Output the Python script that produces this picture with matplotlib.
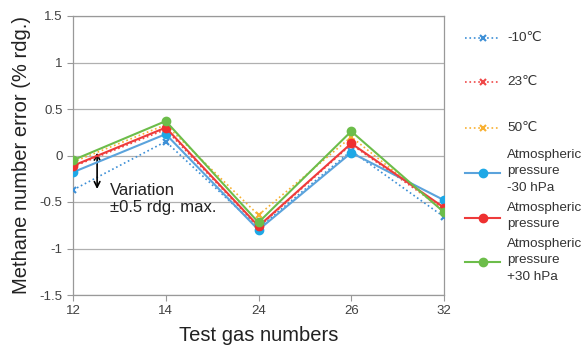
import matplotlib
matplotlib.use("Agg")
import matplotlib.pyplot as plt
from matplotlib.lines import Line2D

plt.rcParams['font.family'] = ['Liberation Sans', 'DejaVu Sans']

categories = ["12", "14", "24", "26", "32"]
t_m10 = [-0.37, 0.15, -0.78, 0.05, -0.66]
t_23 = [-0.12, 0.28, -0.77, 0.12, -0.58]
t_50 = [-0.07, 0.33, -0.64, 0.20, -0.60]
p_m30 = [-0.18, 0.23, -0.80, 0.03, -0.48]
p_atm = [-0.11, 0.30, -0.76, 0.13, -0.56]
p_p30 = [-0.05, 0.37, -0.72, 0.26, -0.61]
yticks = [-1.5, -1, -0.5, 0, 0.5, 1, 1.5]
ytick_labels = ["-1.5", "-1", "-0.5", "0", "0.5", "1", "1.5"]
labels = ['-10\u2103', '23\u2103', '50\u2103',
          'Atmospheric\npressure\n-30 hPa', 'Atmospheric\npressure',
          'Atmospheric\npressure\n+30 hPa']

W, H = 584, 354
fig = plt.figure(figsize=(W / 100, H / 100), dpi=100)
ax = fig.add_axes([73 / W, 1 - 295 / H, (444 - 73) / W, (295 - 16) / H])
x = list(range(len(categories)))

styles = [
    dict(linestyle=':', color='#3d8fd6', marker='x', markersize=5, mew=1.5, lw=1.2),
    dict(linestyle=':', color='#f04848', marker='x', markersize=5, mew=1.5, lw=1.2),
    dict(linestyle=':', color='#f8b030', marker='x', markersize=5, mew=1.5, lw=1.2),
    dict(linestyle='-', color='#5ba3dc', marker='o', markersize=6, mfc='#1ea8e6', mec='#1ea8e6', lw=1.5),
    dict(linestyle='-', color='#ee3b3b', marker='o', markersize=6, mfc='#ee3030', mec='#ee3030', lw=1.5),
    dict(linestyle='-', color='#6cbd4a', marker='o', markersize=6, mfc='#6cbd4a', mec='#6cbd4a', lw=1.5),
]
series = [t_m10, t_23, t_50, p_m30, p_atm, p_p30]
for i, (vals, st) in enumerate(zip(series, styles)):
    ax.plot(x, vals, zorder=3 + i, **st)

ax.set_xlim(0, len(categories) - 1)
ax.set_ylim(-1.5, 1.5)
ax.set_xticks(x)
ax.set_xticklabels(categories, fontsize=9.5, color='#404040')
ax.set_yticks(yticks)
ax.set_yticklabels(ytick_labels, fontsize=9.5, color='#404040')
ax.tick_params(axis='both', length=4, color='#999999')
ax.grid(axis='y', color='#b0b0b0', lw=0.9)
for s in ax.spines.values():
    s.set_color('#999999')
    s.set_linewidth(0.9)

ax.set_xlabel('Test gas numbers', fontsize=14.5, color='#222222', labelpad=6)
ax.set_ylabel('Methane number error (% rdg.)', fontsize=14.5, color='#222222', labelpad=6)

ax.annotate('', xy=(0.26, -0.39), xytext=(0.26, 0.06),
            arrowprops=dict(arrowstyle='<->', color='black', lw=1.2, mutation_scale=10))
ax.text(0.40, -0.47, 'Variation\n\u00b10.5 rdg. max.', fontsize=12, color='#222222',
        va='center', ha='left', linespacing=1.2)

# legend (Excel-like uniform entry spacing)
ys = [38, 82, 128, 173, 218, 262]
for lab, st, yp in zip(labels, styles, ys):
    yf = 1 - yp / H
    ln = Line2D([465 / W, 500 / W], [yf, yf], transform=fig.transFigure,
                **{k: v for k, v in st.items() if k not in ('marker',)}, marker=None)
    fig.add_artist(ln)
    mk = Line2D([482.5 / W], [yf], transform=fig.transFigure, linestyle='none',
                marker=st['marker'], markersize=st['markersize'],
                mew=st.get('mew', 1.0), color=st['color'],
                mfc=st.get('mfc', st['color']), mec=st.get('mec', st['color']))
    fig.add_artist(mk)
    shift = 2 if '\n' in lab else 0
    fig.text(507 / W, yf + shift / H, lab, fontsize=9.7, color='#333333', va='center', ha='left',
             linespacing=1.5)

fig.savefig('out.png', dpi=100)
